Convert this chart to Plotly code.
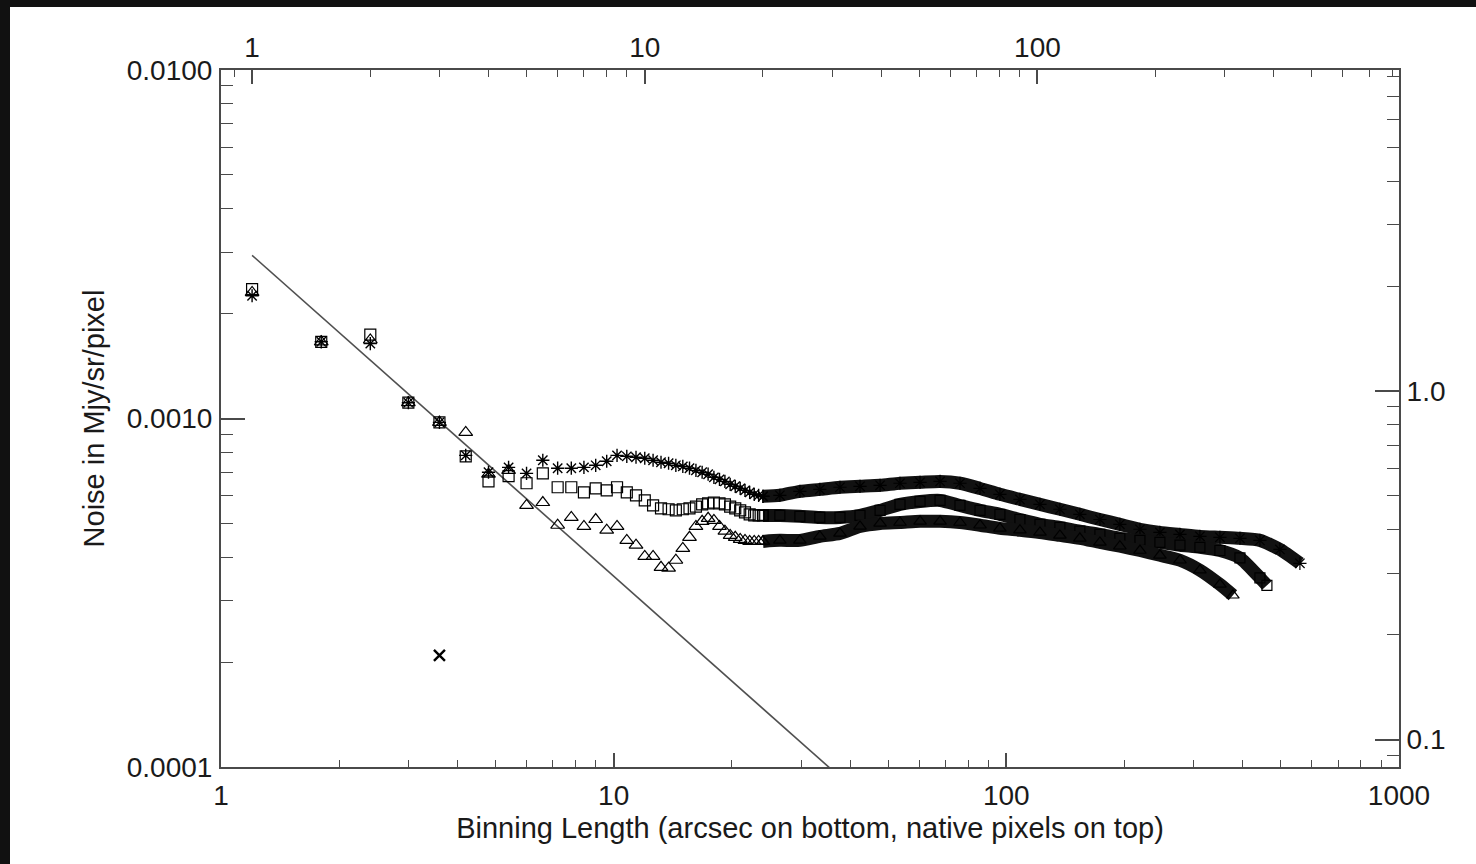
import plotly.graph_objects as go

# ---------------- data ----------------
# binning length in arcsec (bottom axis); native pixels = arcsec / 1.2 (top axis)
bin_arcsec = [1.2, 1.8, 2.4, 3.0, 3.6, 4.2, 4.8, 5.4, 6.0, 6.6, 7.2, 7.8, 8.4, 9.0,
              9.6, 10.2, 10.8, 11.4, 12.0, 12.6, 13.2, 13.8, 14.4, 15.0, 15.6, 16.2,
              16.8, 17.4, 18.0, 18.6, 19.2, 19.8, 20.4, 21.0, 21.6, 22.2, 22.8, 23.4, 24.0]

noise_star = [0.00225, 0.00166, 0.00164, 0.00111, 0.000975, 0.000784, 0.000701, 0.000724,
              0.000696, 0.000759, 0.000720, 0.000720, 0.000724, 0.000734, 0.000754, 0.000784,
              0.000779, 0.000774, 0.000769, 0.000759, 0.000749, 0.000744, 0.000734, 0.000729,
              0.000720, 0.000710, 0.000701, 0.000692, 0.000678, 0.000669, 0.000660, 0.000647,
              0.000639, 0.000630, 0.000622, 0.000614, 0.000606, 0.000602, 0.000598]

noise_square = [0.00235, 0.00166, 0.00174, 0.00111, 0.000975, 0.000779, 0.000660, 0.000683,
                0.000652, 0.000696, 0.000635, 0.000635, 0.000614, 0.000630, 0.000622, 0.000635,
                0.000614, 0.000602, 0.000582, 0.000563, 0.000552, 0.000549, 0.000545, 0.000549,
                0.000552, 0.000559, 0.000567, 0.000571, 0.000574, 0.000571, 0.000567, 0.000559,
                0.000552, 0.000545, 0.000538, 0.000531, 0.000527, 0.000527, 0.000527]

noise_triangle = [0.00230, 0.00166, 0.00168, 0.00111, 0.000975, 0.000912, 0.000692, 0.000710,
                  0.000563, 0.000574, 0.000494, 0.000520, 0.000490, 0.000513, 0.000478, 0.000490,
                  0.000447, 0.000433, 0.000402, 0.000402, 0.000374, 0.000372, 0.000392, 0.000424,
                  0.000456, 0.000490, 0.000507, 0.000517, 0.000510, 0.000490, 0.000475, 0.000462,
                  0.000456, 0.000450, 0.000447, 0.000444, 0.000444, 0.000444, 0.000444]

# dense continuation (large binning lengths)
dense_star_x = [26.5, 29.8, 33.5, 37.7, 42.4, 47.7, 53.6, 60.3, 67.8, 76.2, 85.7, 96.3, 108.3,
                121.8, 136.9, 153.9, 173.1, 194.6, 218.9, 246.1, 276.8, 311.2, 349.9, 393.5,
                442.4, 497.4, 559.3]
dense_star_y = [0.000602, 0.000618, 0.000626, 0.000635, 0.000639, 0.000643, 0.000652, 0.000656,
                0.000660, 0.000652, 0.000630, 0.000606, 0.000586, 0.000567, 0.000549, 0.000531,
                0.000513, 0.000497, 0.000481, 0.000471, 0.000465, 0.000459, 0.000456, 0.000453,
                0.000447, 0.000421, 0.000384]

dense_square_x = [26.5, 29.8, 33.5, 37.7, 42.4, 47.7, 53.6, 60.3, 67.8, 76.2, 85.7, 96.3, 108.3,
                  121.8, 136.9, 153.9, 173.1, 194.6, 218.9, 246.1, 276.8, 311.2, 349.9, 393.5,
                  442.4, 460.9]
dense_square_y = [0.000527, 0.000524, 0.000520, 0.000520, 0.000527, 0.000545, 0.000567, 0.000578,
                  0.000582, 0.000563, 0.000545, 0.000531, 0.000513, 0.000497, 0.000487, 0.000475,
                  0.000465, 0.000453, 0.000447, 0.000441, 0.000433, 0.000427, 0.000418, 0.000398,
                  0.000349, 0.000332]

dense_triangle_x = [26.5, 29.8, 33.5, 37.7, 42.4, 47.7, 53.6, 60.3, 67.8, 76.2, 85.7, 96.3, 108.3,
                    121.8, 136.9, 153.9, 173.1, 194.6, 218.9, 246.1, 276.8, 311.2, 349.9, 377.6]
dense_triangle_y = [0.000447, 0.000447, 0.000459, 0.000468, 0.000490, 0.000500, 0.000503, 0.000507,
                    0.000507, 0.000503, 0.000494, 0.000484, 0.000478, 0.000471, 0.000462, 0.000453,
                    0.000441, 0.000430, 0.000418, 0.000405, 0.000392, 0.000367, 0.000334, 0.000311]

# reference power-law line
line_x = [1.2, 40.0]
line_y = [0.00294, 0.0000882]

# single "x" point
x_point_x = [3.6]
x_point_y = [0.000209]

# tick labels
bottom_ticks = [1, 10, 100, 1000]
bottom_labels = ["1", "10", "100", "1000"]
top_ticks = [1, 10, 100]
top_labels = ["1", "10", "100"]
left_ticks = [0.0001, 0.001, 0.01]
left_labels = ["0.0001", "0.0010", "0.0100"]
right_ticks = [0.1, 1.0]
right_labels = ["0.1", "1.0"]

# ---------------- figure ----------------
FONT = "Liberation Sans, Arial, Helvetica, sans-serif"
TXT = "#1a1a1a"
AX = "#4a4a4a"

fig = go.Figure()

fig.add_trace(go.Scatter(x=line_x, y=line_y, mode="lines",
                         line=dict(color="#505050", width=1.6), hoverinfo="skip"))

sym = {"star": "asterisk-open", "square": "square-open", "tri": "triangle-up-open"}

# dense bands
for dx, dy, ex, ey, s, sz in [
    (dense_star_x, dense_star_y, bin_arcsec, noise_star, sym["star"], 11),
    (dense_square_x, dense_square_y, bin_arcsec, noise_square, sym["square"], 10),
    (dense_triangle_x, dense_triangle_y, bin_arcsec, noise_triangle, sym["tri"], 11),
]:
    fig.add_trace(go.Scatter(
        x=[ex[-1]] + dx, y=[ey[-1]] + dy, mode="lines+markers",
        line=dict(color="#111111", width=13, shape="spline", smoothing=0.6),
        marker=dict(symbol=s, size=sz, color="black", line=dict(color="black", width=1.2)),
        hoverinfo="skip"))

# discrete points
fig.add_trace(go.Scatter(x=bin_arcsec, y=noise_triangle, mode="markers",
                         marker=dict(symbol=sym["tri"], size=12, color="black",
                                     line=dict(color="#222222", width=1.2))))
fig.add_trace(go.Scatter(x=bin_arcsec, y=noise_square, mode="markers",
                         marker=dict(symbol=sym["square"], size=11, color="black",
                                     line=dict(color="#222222", width=1.2))))
fig.add_trace(go.Scatter(x=bin_arcsec, y=noise_star, mode="markers",
                         marker=dict(symbol=sym["star"], size=11, color="black",
                                     line=dict(color="black", width=1.4))))
fig.add_trace(go.Scatter(x=x_point_x, y=x_point_y, mode="markers",
                         marker=dict(symbol="x-thin-open", size=11, color="black",
                                     line=dict(color="black", width=2.4))))

# helper traces so top / right axes are drawn
fig.add_trace(go.Scatter(x=[], y=[], xaxis="x2", yaxis="y", showlegend=False, hoverinfo="skip"))
fig.add_trace(go.Scatter(x=[], y=[], xaxis="x", yaxis="y2", showlegend=False, hoverinfo="skip"))

def minor_log(lo_dec, hi_dec):
    vals = []
    for d in range(lo_dec, hi_dec):
        for m in range(2, 10):
            vals.append(m * 10.0 ** d)
    return vals

tickfont = dict(family=FONT, size=28, color=TXT)
common = dict(type="log", showgrid=False, zeroline=False, showline=True,
              linecolor=AX, linewidth=2, ticks="inside", tickcolor=AX, tickwidth=1.5,
              tickfont=tickfont, tickmode="array")

fig.update_layout(
    width=1476, height=864,
    margin=dict(l=221, r=77, t=70, b=97),
    paper_bgcolor="white", plot_bgcolor="white",
    showlegend=False,
    xaxis=dict(**common, range=[0, 3], side="bottom", ticklen=14,
               tickvals=bottom_ticks, ticktext=bottom_labels,
               minor=dict(ticks="inside", ticklen=7, tickcolor=AX, tickwidth=1.3,
                          tickmode="array", tickvals=minor_log(0, 3)),
               title=dict(text="Binning Length (arcsec on bottom, native pixels on top)",
                          font=dict(family=FONT, size=29, color=TXT), standoff=8),
               ticklabelstandoff=2),
    xaxis2=dict(**common, overlaying="x", anchor="y", side="top",
                range=[-0.07918, 2.92082], ticklen=14,
                tickvals=top_ticks, ticktext=top_labels,
                minor=dict(ticks="inside", ticklen=7, tickcolor=AX, tickwidth=1.3,
                           tickmode="array", tickvals=[0.9] + minor_log(0, 3)),
                ticklabelstandoff=0),
    yaxis=dict(**common, range=[-4, -2], side="left", ticklen=24,
               tickvals=left_ticks, ticktext=left_labels,
               minor=dict(ticks="inside", ticklen=12, tickcolor=AX, tickwidth=1.3,
                          tickmode="array", tickvals=minor_log(-4, -2)),
               title=dict(text="Noise in Mjy/sr/pixel",
                          font=dict(family=FONT, size=29, color=TXT), standoff=14),
               ticklabelstandoff=1),
    yaxis2=dict(**common, overlaying="y", anchor="x", side="right",
                range=[-1.0788, 0.9212], ticklen=24,
                tickvals=right_ticks, ticktext=right_labels,
                minor=dict(ticks="inside", ticklen=12, tickcolor=AX, tickwidth=1.3,
                           tickmode="array", tickvals=[0.09] + minor_log(-1, 1)),
                ticklabelstandoff=0),
)

# dark frame strips at the top and left edges of the picture
W, H = 1178.0, 697.0
fig.add_shape(type="rect", xref="paper", yref="paper", layer="above",
              x0=-0.3, x1=1.2, y0=(767 - 7) / H, y1=1.3,
              fillcolor="#111111", line=dict(width=0))
fig.add_shape(type="rect", xref="paper", yref="paper", layer="above",
              x0=-0.3, x1=(10 - 221) / W, y0=-0.3, y1=1.3,
              fillcolor="#111111", line=dict(width=0))

fig.write_html("out.html", config={"displayModeBar": False},
               post_script="document.body.style.margin='0';document.body.style.overflow='hidden';")
